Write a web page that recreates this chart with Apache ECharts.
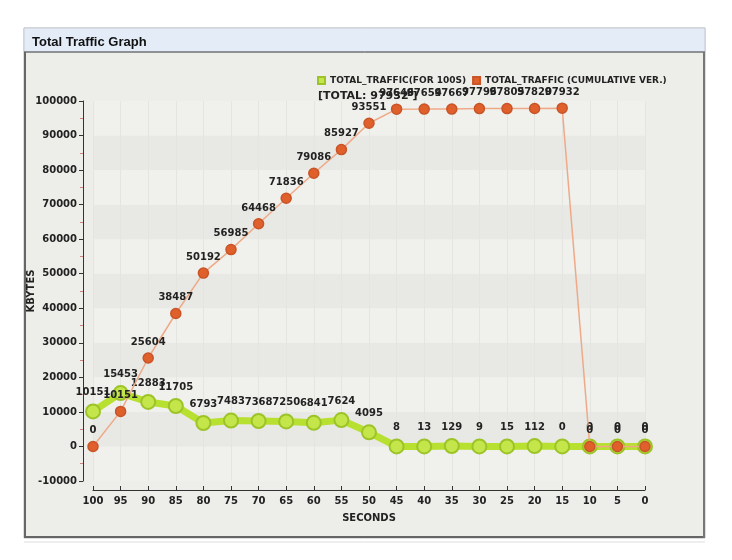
<!DOCTYPE html>
<html><head><meta charset="utf-8">
<script src="https://cdn.jsdelivr.net/npm/echarts@6/dist/echarts.min.js"></script>
<style>html,body{margin:0;padding:0;background:#fff}#c{width:732px;height:560px}</style>
</head><body><div id="c"></div>
<script>
const seconds = ['100','95','90','85','80','75','70','65','60','55','50','45','40','35','30','25','20','15','10','5','0'];
const perInterval = [10151,15453,12883,11705,6793,7483,7368,7250,6841,7624,4095,8,13,129,9,15,112,0,0,0,0];
const cumulative = [0,10151,25604,38487,50192,56985,64468,71836,79086,85927,93551,97646,97654,97667,97796,97805,97820,97932,0,0,0];
const totalLabel = '[TOTAL: 97932 ]';
const seriesNames = ['TOTAL_TRAFFIC(FOR 100S)','TOTAL_TRAFFIC (CUMULATIVE VER.)'];

const chart = echarts.init(document.getElementById('c'));
const font = 'DejaVu Sans';
chart.setOption({
  backgroundColor: '#ffffff',
  animation: false,
  graphic: [
    {type:'rect', shape:{x:24,y:28,width:681,height:510}, style:{fill:'#ededE9',stroke:'#bbbbbb',lineWidth:1}, z:-10},
    {type:'rect', shape:{x:24,y:28,width:681,height:24}, style:{fill:'#e4ecf8',stroke:'#c8ccd4',lineWidth:1}, z:-9},
    {type:'line', shape:{x1:24,y1:52,x2:705,y2:52}, style:{stroke:'#444',lineWidth:1}, z:-8},
    {type:'line', shape:{x1:25,y1:52,x2:25,y2:538}, style:{stroke:'#666',lineWidth:2}, z:-8},
    {type:'line', shape:{x1:24,y1:537,x2:705,y2:537}, style:{stroke:'#666',lineWidth:2}, z:-8},
    {type:'line', shape:{x1:704,y1:52,x2:704,y2:538}, style:{stroke:'#777',lineWidth:2}, z:-8},
    {type:'line', shape:{x1:24,y1:542,x2:705,y2:542}, style:{stroke:'#ddd',lineWidth:1}, z:-8},
    {type:'text', left:318, top:91, style:{text:totalLabel, font:'bold 11px ' + font, fill:'#222'}}
  ],
  title: {text:'Total Traffic Graph', left:27, top:31, textStyle:{fontFamily:'Arial, Liberation Sans', fontWeight:'bold', fontSize:13, color:'#111'}},
  legend: {
    data: seriesNames, left: 312, top: 71, itemWidth:7, itemHeight:7, itemGap:6, icon:'rect',
    textStyle:{fontFamily:font, fontSize:9, fontWeight:'bold', color:'#222'}
  },
  grid: {left:93, right:87, top:101, bottom:79},
  xAxis: {
    type:'category', data:seconds, boundaryGap:false, offset:9,
    name:'SECONDS', nameLocation:'middle', nameGap:23,
    nameTextStyle:{fontFamily:font, fontSize:10, fontWeight:'bold', color:'#222'},
    axisLine:{onZero:false, lineStyle:{color:'#333'}}, axisTick:{show:true, alignWithLabel:true, lineStyle:{color:'#333'}, length:4, inside:true},
    axisLabel:{fontFamily:font, fontSize:10, fontWeight:'bold', color:'#222', margin:6},
    splitLine:{show:true, lineStyle:{color:'#e4e4e0'}}
  },
  yAxis: {
    type:'value', min:-10000, max:100000, interval:10000, offset:10,
    name:'KBYTES', nameLocation:'middle', nameGap:47, nameRotate:90, nameMoveOverlap:false,
    nameTextStyle:{fontFamily:font, fontSize:10, fontWeight:'bold', color:'#222'},
    axisLine:{show:true, onZero:false, lineStyle:{color:'#333'}}, axisTick:{show:true, length:4, lineStyle:{color:'#333'}},
    minorTick:{show:true, splitNumber:2, length:3, lineStyle:{color:'#d08080'}},
    axisLabel:{fontFamily:font, fontSize:10, fontWeight:'bold', color:'#222', margin:6, formatter: v => String(v)},
    splitLine:{show:false},
    splitArea:{show:true, areaStyle:{color:['#f0f0ec','#e8e8e4']}}
  },
  series: [
    {
      name: seriesNames[0], type:'line', data:perInterval,
      symbol:'circle', symbolSize:14,
      lineStyle:{color:'#b8e030', width:7},
      itemStyle:{color:'#c4e64a', borderColor:'#9cc428', borderWidth:2},
      label:{show:true, position:'top', distance:6, fontFamily:font, fontSize:10, fontWeight:'bold', color:'#222'},
      z:2
    },
    {
      name: seriesNames[1], type:'line', data:cumulative,
      symbol:'circle', symbolSize:10,
      lineStyle:{color:'#eeaa88', width:1.5},
      itemStyle:{color:'#e0602c', borderColor:'#c85428', borderWidth:1.5},
      label:{show:true, position:'top', distance:5, fontFamily:font, fontSize:10, fontWeight:'bold', color:'#222'},
      z:3
    }
  ]
});
</script></body></html>
